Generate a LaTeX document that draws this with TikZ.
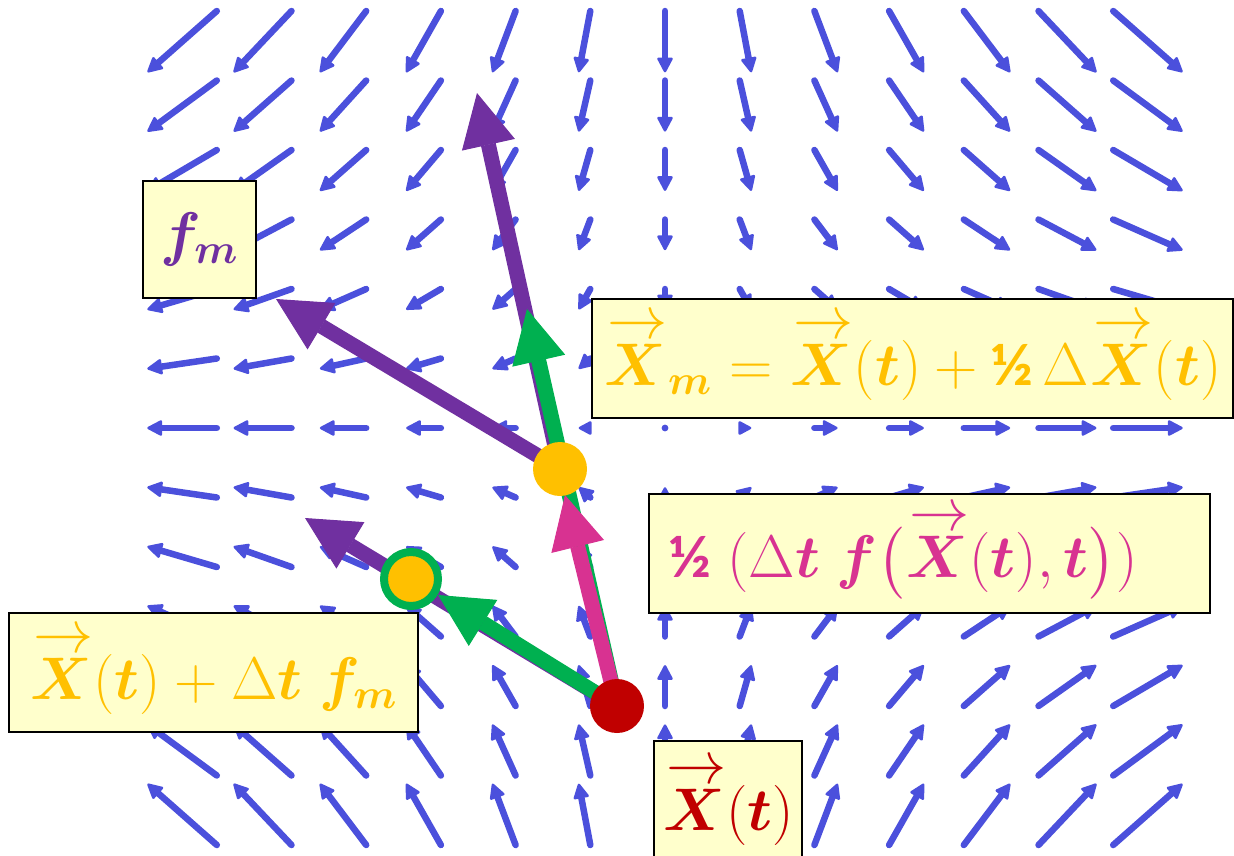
\documentclass[tikz,border=0pt]{standalone}
\usepackage{amsmath}
\usepackage{bm}
\usepackage{graphicx}
\usepackage{fontspec}
\newfontfamily\fracfont{Carlito}
\usetikzlibrary{arrows.meta}
\definecolor{fieldblue}{RGB}{75,80,220}
\definecolor{mpurple}{RGB}{112,48,160}
\definecolor{mgreen}{RGB}{0,176,80}
\definecolor{mpink}{RGB}{216,50,145}
\definecolor{mgold}{RGB}{255,192,0}
\definecolor{mred}{RGB}{192,0,0}
\definecolor{boxfill}{RGB}{255,255,204}
\pgfdeclarelayer{field}
\pgfdeclarelayer{arrows}
\pgfsetlayers{field,arrows,main}
\newcommand\vX{\mathord{\vbox{\offinterlineskip\halign{\hfil##\hfil\cr
  \kern1.5pt$\rightarrow$\cr\noalign{\kern2.2pt} $\bm{X}$\cr}}}}
\newcommand\half{\text{\fracfont\bfseries ½}}
\newcommand\lbl[1]{\scalebox{2.9}{#1}}
\begin{document}
\begin{tikzpicture}[x=1pt,y=-1pt,
  fieldshaft/.style={draw=fieldblue,line width=6.5pt,line cap=round},
  fieldhead/.style={fill=fieldblue,draw=fieldblue,line width=2.5pt,line join=round},
  bigarrow/.style={line width=15pt,-{Triangle[length=53pt,width=54pt,line width=1pt]}},
  dot/.style={circle,inner sep=0pt,minimum size=54pt},
  labelbox/.style={draw=black,line width=2.5pt,fill=boxfill,inner sep=0pt,
    font=\fontsize{20.74}{25}\selectfont}]
\useasboundingbox (0,0) rectangle (1234,855);

% vector field (saddle)
\begin{pgfonlayer}{field}
\foreach \i in {-6,...,6}{
  \foreach \j in {-6,...,6}{
    \pgfmathsetmacro\tx{665+74.7*\i}
    \pgfmathsetmacro\ty{428-69.5*\j}
    \pgfmathsetmacro\dx{0.155*74.7*\i}
    \pgfmathsetmacro\cdy{-0.147*69.5*\j}
    \pgfmathsetmacro\L{veclen(\dx,\cdy)}
    \ifdim\L pt<0.5pt
      \fill[fieldblue] (\tx,\ty) circle (3.4);
    \else
      \pgfmathsetmacro\a{atan2(\cdy,\dx)}
      \pgfmathsetmacro\h{min(13.5,\L)}
      \pgfmathsetmacro\w{6.5*\h/13.5}
      \pgfmathsetmacro\s{\L-\h}
      \pgfmathsetmacro\e{\L-1.2}
      \begin{scope}[shift={(\tx,\ty)},rotate=\a]
        \ifdim\s pt>0.5pt \draw[fieldshaft] (0,0) -- (\s+1,0); \fi
        \filldraw[fieldhead] (\e,0) -- (\s,\w) -- (\s,-\w) -- cycle;
      \end{scope}
    \fi
  }
}
\end{pgfonlayer}

% points
\node[dot,fill=mred] (xt) at (617,706) {};
\node[dot,fill=mgold] (xm) at (560,469) {};
\node[dot,fill=mgold,draw=mgreen,line width=8pt] (xn) at (411,579) {};

% free arrow ends
\coordinate (pA) at (305,518);
\coordinate (pB) at (276,299);
\coordinate (pC) at (477,93);
\coordinate (gA) at (527,309);
\coordinate (gB) at (438,595);
\coordinate (kA) at (565,495);

\begin{pgfonlayer}{arrows}
\draw[bigarrow,mpurple] (xt.center) -- (pA);
\draw[bigarrow,mpurple] (xm.center) -- (pB);
\draw[bigarrow,mpurple] (xm.center) -- (pC);
\draw[bigarrow,mgreen] (xt.center) -- (gA);
\draw[bigarrow,mgreen] (xt.center) -- (gB);
\draw[bigarrow,mpink] (xt.center) -- (kA);
\end{pgfonlayer}

% label boxes
\node[labelbox,minimum width=113pt,minimum height=117pt,text=mpurple] (fm)
  at (199.5,239.5) {\lbl{$\bm{f}_{\bm{m}}$}};
\node[labelbox,minimum width=641pt,minimum height=119pt,text=mgold] (xmbox)
  at (912.5,358.5) {\lbl{$\vX_{\bm{m}}=\vX(\bm{t})+\half\,\Delta\vX(\bm{t})$}};
\node[labelbox,minimum width=561pt,minimum height=119pt,text width=521pt,align=left,text=mpink] (halfbox)
  at (929.5,553.5) {\lbl{$\half\;(\Delta\bm{t}\;\bm{f}\bigl(\vX(\bm{t}),\bm{t}\bigr))$}};
\node[labelbox,minimum width=409pt,minimum height=119pt,text=mgold] (eulerbox)
  at (213.5,672.5) {\lbl{$\vX(\bm{t})+\Delta\bm{t}\;\bm{f}_{\bm{m}}$}};
\node[labelbox,minimum width=148pt,minimum height=125pt,text=mred] (xtbox)
  at (728,803.5) {\lbl{$\vX(\bm{t})$}};
\end{tikzpicture}
\end{document}
